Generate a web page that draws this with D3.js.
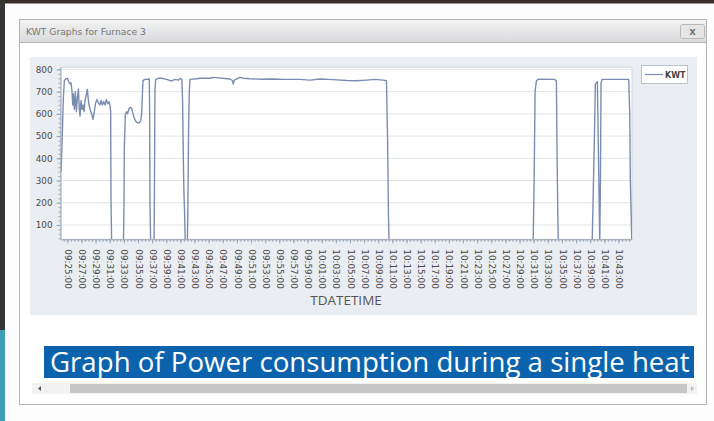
<!DOCTYPE html>
<html><head><meta charset="utf-8">
<script src="https://cdn.jsdelivr.net/npm/d3@7"></script>
<style>html,body{margin:0;padding:0;background:#fff;overflow:hidden}</style>
</head><body>
<svg id="c" width="714" height="421"></svg>
<script>
// ---------- data ----------
const seriesName = "KWT";
const windowTitle = "KWT Graphs for Furnace 3";
const xAxisTitle = "TDATETIME";
const caption = "Graph of Power consumption during a single heat";

const times = [
"09:24:07","09:24:18","09:24:26","09:24:35","09:24:49","09:25:00","09:25:12","09:25:23","09:25:31","09:25:40",
"09:25:46","09:25:51","09:26:00","09:26:08","09:26:17","09:26:25","09:26:34","09:26:42","09:26:48","09:26:56",
"09:27:05","09:27:13","09:27:22","09:27:30","09:27:39","09:27:50","09:28:01","09:28:13","09:28:27","09:28:38",
"09:28:49","09:29:01","09:29:12","09:29:23","09:29:35","09:29:46","09:29:57","09:30:09","09:30:20","09:30:31",
"09:30:43","09:30:54","09:31:02","09:31:08","09:31:11","09:31:17","09:32:56","09:33:01","09:33:04","09:33:13",
"09:33:24","09:33:32","09:33:44","09:33:55","09:34:06","09:34:18","09:34:29","09:34:43","09:34:57","09:35:11",
"09:35:23","09:35:31","09:35:37","09:35:42","09:35:59","09:36:36","09:36:39","09:36:42","09:36:48","09:37:16",
"09:37:19","09:37:24","09:37:30","09:37:53","09:38:21","09:39:03","09:39:46","09:40:14","09:40:42","09:41:02",
"09:41:13","09:41:19","09:41:25","09:41:30","09:41:36","09:41:42","09:41:59","09:42:04","09:42:10","09:42:16",
"09:42:21","09:43:18","09:43:46","09:45:11","09:45:39","09:48:01","09:48:21","09:48:29","09:48:38","09:49:26",
"09:49:54","09:50:51","09:52:30","09:54:09","09:55:33","09:57:55","09:59:20","10:00:45","10:02:38","10:04:31",
"10:05:56","10:07:21","10:08:31","10:09:42","10:10:10","10:10:19","10:10:27","10:10:33","10:30:55","10:31:04",
"10:31:12","10:31:23","10:31:38","10:33:59","10:34:13","10:34:19","10:34:25","10:34:30","10:39:16","10:39:36",
"10:39:44","10:40:01","10:40:18","10:40:21","10:40:27","10:40:32","10:40:41","10:44:27","10:44:36","10:44:41",
"10:44:50","10:44:55"
];
const kwt = [
340,520,670,750,758,760,745,735,740,700,
640,690,620,700,610,670,712,620,590,660,
620,640,610,660,680,710,650,620,600,575,
610,650,665,650,640,660,640,655,640,665,
645,655,640,610,200,0,0,180,450,600,
610,600,625,630,625,600,580,565,560,560,
570,600,680,750,755,757,600,200,0,0,
200,700,755,760,760,755,748,755,752,760,
755,650,400,250,150,0,0,200,550,700,
755,758,760,760,764,757,750,734,752,764,
760,758,756,757,755,755,752,757,754,750,
749,752,755,752,749,500,150,0,0,300,
700,748,756,755,748,400,150,0,0,500,
735,745,130,0,300,740,755,755,600,300,
100,0
];
const yTicks = [100,200,300,400,500,600,700,800];
const xTickLabels = [
"09:25:00","09:27:00","09:29:00","09:31:00","09:33:00","09:35:00","09:37:00","09:39:00","09:41:00","09:43:00",
"09:45:00","09:47:00","09:49:00","09:51:00","09:53:00","09:55:00","09:57:00","09:59:00","10:01:00","10:03:00",
"10:05:00","10:07:00","10:09:00","10:11:00","10:13:00","10:15:00","10:17:00","10:19:00","10:21:00","10:23:00",
"10:25:00","10:27:00","10:29:00","10:31:00","10:33:00","10:35:00","10:37:00","10:39:00","10:41:00","10:43:00"
];

// ---------- layout ----------
const svg = d3.select("#c");
const parse = d3.timeParse("%H:%M:%S");
const fmt = d3.timeFormat("%H:%M:%S");
const data = times.map((t,i)=>({t:parse(t), v:kwt[i]}));
const plot = {l:60.5, r:632, t:67.3, b:239.3};
const lineColor = "#7a8db0";

// outer screen edges
svg.append("rect").attr("x",0).attr("y",0).attr("width",714).attr("height",421).attr("fill","#fdfdfd");
svg.append("rect").attr("x",0).attr("y",0).attr("width",714).attr("height",3.5).attr("fill","#3a2c29");
svg.append("rect").attr("x",0).attr("y",0).attr("width",5).attr("height",330).attr("fill","#353535");
svg.append("rect").attr("x",0).attr("y",330).attr("width",5).attr("height",91).attr("fill","#3f9fb2");

// dialog
const defs = svg.append("defs");
const g1 = defs.append("linearGradient").attr("id","tb").attr("x1",0).attr("x2",0).attr("y1",0).attr("y2",1);
g1.append("stop").attr("offset","0%").attr("stop-color","#f3f3f3");
g1.append("stop").attr("offset","100%").attr("stop-color","#d9dadc");
svg.append("rect").attr("x",19.5).attr("y",19.5).attr("width",687).attr("height",385)
  .attr("fill","#fff").attr("stroke","#b4b4b4");
svg.append("rect").attr("x",19.5).attr("y",19.5).attr("width",687).attr("height",23)
  .attr("fill","url(#tb)").attr("stroke","#b4b4b4");
svg.append("text").attr("x",26).attr("y",35).attr("font-family","DejaVu Sans, Verdana, sans-serif")
  .attr("font-size",9.2).attr("fill","#767676").text(windowTitle);
svg.append("rect").attr("x",680.5).attr("y",24.5).attr("width",24).attr("height",14).attr("rx",2)
  .attr("fill","#e6e6e6").attr("stroke","#b8b8b8");
svg.append("text").attr("x",692.5).attr("y",35).attr("text-anchor","middle")
  .attr("font-family","DejaVu Sans, sans-serif").attr("font-size",10).attr("font-weight","bold")
  .attr("fill","#777").text("x");

// chart panel
svg.append("rect").attr("x",30).attr("y",57).attr("width",667).attr("height",258).attr("fill","#eaedf1");
svg.append("rect").attr("x",plot.l).attr("y",plot.t).attr("width",plot.r-plot.l).attr("height",plot.b-plot.t)
  .attr("fill","#fff").attr("stroke","#d4d8dd").attr("stroke-width",1);

// scales
const x = d3.scaleTime()
  .domain([new Date(d3.min(data,d=>d.t).getTime()-5000), d3.max(data,d=>d.t)])
  .range([plot.l, plot.r]);
const y = d3.scaleLinear().domain([35.5, 809.5]).range([plot.b, plot.t]);

// gridlines
svg.append("g").selectAll("line").data(yTicks).join("line")
  .attr("x1",plot.l).attr("x2",plot.r).attr("y1",d=>y(d)).attr("y2",d=>y(d))
  .attr("stroke","#e2e4e7").attr("stroke-width",1);

// line
defs.append("clipPath").attr("id","clip").append("rect")
  .attr("x",plot.l).attr("y",plot.t).attr("width",plot.r-plot.l).attr("height",plot.b-plot.t);
svg.append("path").datum(data).attr("clip-path","url(#clip)")
  .attr("fill","none").attr("stroke",lineColor).attr("stroke-width",1.4).attr("stroke-linejoin","round")
  .attr("d", d3.line().x(d=>x(d.t)).y(d=>y(d.v)));

// y axis
const axisColor = "#9aa6b4";
const yMinor = svg.append("g").attr("transform",`translate(${plot.l},0)`)
  .call(d3.axisLeft(y).tickValues(y.ticks(40)).tickSize(2).tickFormat(""));
yMinor.select(".domain").remove();
yMinor.selectAll("line").attr("stroke",axisColor);
const yAx = svg.append("g").attr("transform",`translate(${plot.l},0)`)
  .call(d3.axisLeft(y).tickValues(yTicks).tickSize(4).tickSizeOuter(0).tickPadding(4));
yAx.select(".domain").attr("stroke",axisColor);
yAx.selectAll("line").attr("stroke",axisColor);
yAx.selectAll("text").attr("font-family","DejaVu Sans, Verdana, sans-serif").attr("font-size",8.8).attr("fill","#4a4a4a");

// x axis
const xMinor = svg.append("g").attr("transform",`translate(0,${plot.b})`)
  .call(d3.axisBottom(x).ticks(d3.timeSecond.every(30)).tickSize(2.5).tickFormat(""));
xMinor.select(".domain").remove();
xMinor.selectAll("line").attr("stroke",axisColor);
const xAx = svg.append("g").attr("transform",`translate(0,${plot.b})`)
  .call(d3.axisBottom(x).tickValues(xTickLabels.map(parse)).tickFormat(fmt).tickSize(4).tickSizeOuter(0));
xAx.select(".domain").attr("stroke",axisColor);
xAx.selectAll("line").attr("stroke",axisColor);
xAx.selectAll("text")
  .attr("font-family","DejaVu Sans, Verdana, sans-serif").attr("font-size",8.8).attr("fill","#4a4a4a")
  .attr("text-anchor","start").attr("transform","rotate(90)")
  .attr("x",10).attr("y",0).attr("dy","0.33em");

svg.append("text").attr("x",346).attr("y",305).attr("text-anchor","middle")
  .attr("font-family","Open Sans, sans-serif").attr("font-size",13.5).attr("fill","#555").text(xAxisTitle);

// legend
svg.append("rect").attr("x",641.5).attr("y",65.5).attr("width",46).attr("height",18)
  .attr("fill","#fff").attr("stroke","#bcc3cb");
svg.append("line").attr("x1",645).attr("x2",663).attr("y1",74.5).attr("y2",74.5)
  .attr("stroke",lineColor).attr("stroke-width",1.2);
svg.append("text").attr("x",665).attr("y",77.8).attr("font-family","DejaVu Sans, sans-serif")
  .attr("font-size",8).attr("font-weight","bold").attr("fill","#444").text(seriesName);

// caption
svg.append("rect").attr("x",44).attr("y",346).attr("width",650).attr("height",32).attr("fill","#0b63ae");
const cap = svg.append("text").attr("x",50).attr("y",372).attr("font-family","Open Sans, sans-serif")
  .attr("font-size",25).attr("fill","#fff").text(caption);
const w = cap.node().getComputedTextLength();
cap.attr("font-size", 25*640/w);

// scrollbar
svg.append("rect").attr("x",32).attr("y",383).attr("width",665).attr("height",11).attr("fill","#f2f2f2");
svg.append("rect").attr("x",70).attr("y",384).attr("width",617).attr("height",9).attr("fill","#c6c6c6");
svg.append("path").attr("d","M41,386 L38,388.5 L41,391 Z").attr("fill","#555");
svg.append("path").attr("d","M691,386 L694,388.5 L691,391 Z").attr("fill","#bbb");
</script>
</body></html>
